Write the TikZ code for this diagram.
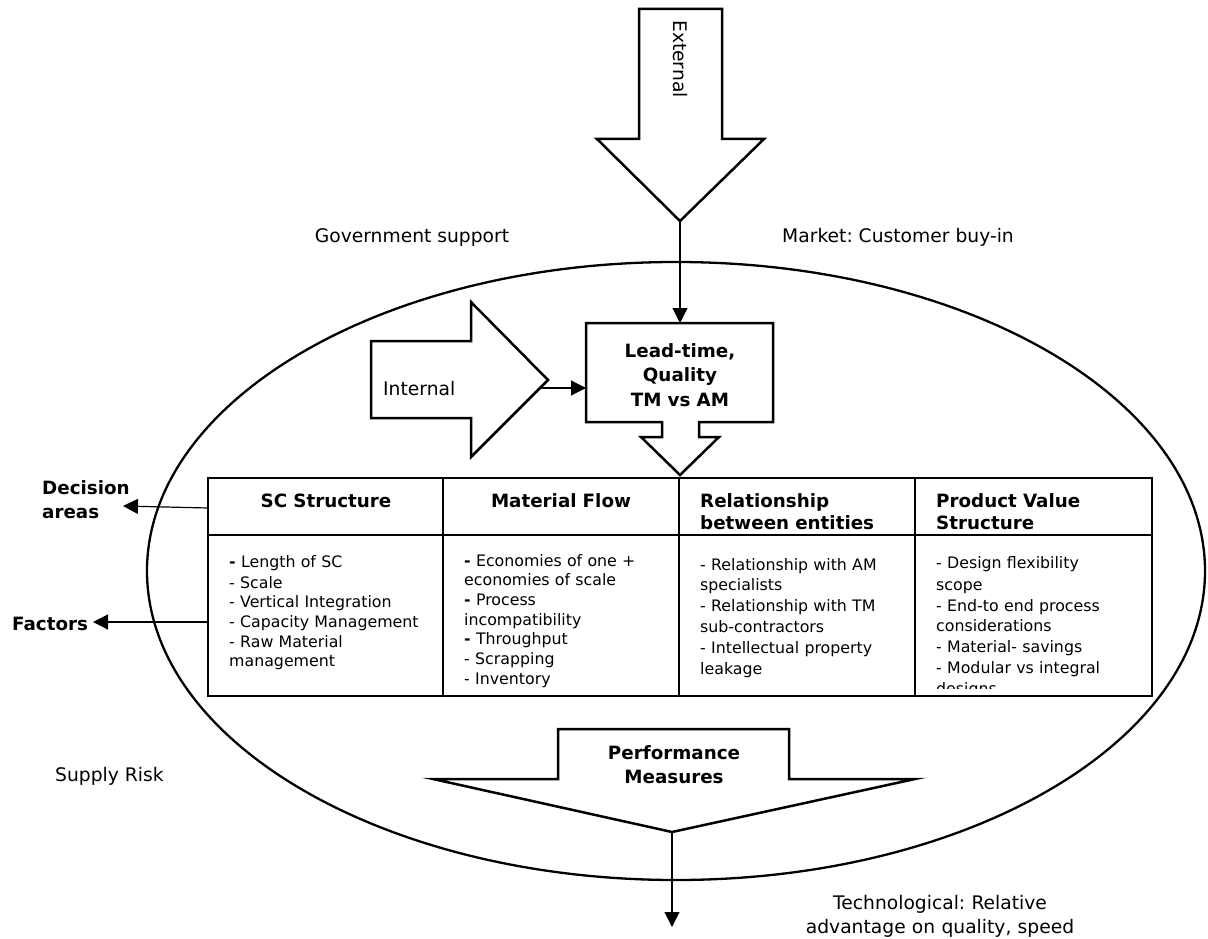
\documentclass[tikz,border=0pt]{standalone}
\usepackage{fontspec}
\setmainfont{DejaVu Sans}
\frenchspacing
\usetikzlibrary{arrows.meta}
\begin{document}
\begin{tikzpicture}[x=1pt,y=-1pt,
  plain/.style={font=\fontsize{18.7}{24}\selectfont, inner sep=0pt},
  boldtxt/.style={font=\bfseries\fontsize{18.3}{24.5}\selectfont, inner sep=0pt, align=center, text width=200pt},
  hdr/.style={font=\bfseries\fontsize{18.3}{22}\selectfont, inner sep=0pt, align=left, text width=210pt, anchor=base west},
  cell/.style={font=\fontsize{15.8}{19.7}\selectfont, inner sep=0pt, text width=210pt, align=left, anchor=base west},
  widecell/.style={cell, font=\fontsize{15.8}{20.8}\selectfont},
  fatarrow/.style={draw, line width=2.5pt, fill=white, line join=miter},
  conn/.style={line width=1.2pt, -{Triangle[length=15pt,width=15pt]}},
  grid/.style={line width=1.3pt},
]
\useasboundingbox (0,0) rectangle (1208,939);

% surrounding oval
\draw[line width=2.3pt] (676,571) ellipse [x radius=529, y radius=309];

% external block arrow
\draw[fatarrow] (639,9) -- (722,9) -- (722,139) -- (764,139) -- (680,221)
  -- (597,139) -- (639,139) -- cycle;
\node[plain, rotate=-90] (ext) at (680,59) {External};
\coordinate (exttip) at (680,221);

% internal block arrow
\draw[fatarrow] (371,341) -- (471,341) -- (471,302) -- (548,380) -- (471,457)
  -- (471,418) -- (371,418) -- cycle;
\node[plain, anchor=base west] (int) at (383,395) {Internal};
\coordinate (inttip) at (540,388);

% lead-time box with its downward pointer
\draw[fatarrow] (586,323) -- (773,323) -- (773,422) -- (699,422) -- (699,437)
  -- (719,437) -- (680,475) -- (641,437) -- (662,437) -- (662,422)
  -- (586,422) -- cycle;
\node[boldtxt, anchor=base] (lead) at (680,357) {Lead-time,\\Quality\\TM vs AM};
\coordinate (leadN) at (680,323);
\coordinate (leadW) at (586,388);

\draw[conn] (exttip) -- (leadN);
\draw[conn] (inttip) -- (leadW);

% outside labels
\node[plain, anchor=base] (gov) at (412,242) {Government support};
\node[plain, anchor=base] (mkt) at (898,242) {Market: Customer buy-in};
\node[plain, anchor=base west] (risk) at (55,781) {Supply Risk};
\node[plain, anchor=base, align=center, text width=300pt] (tech) at (940,909)
  {Technological: Relative\\advantage on quality, speed};

% decision table
\draw[grid] (208,478) rectangle (1152,696);
\draw[grid] (208,535) -- (1152,535);
\foreach \cx in {443,679,915} \draw[grid] (\cx,478) -- (\cx,696);

\node[hdr, anchor=base, align=center, text width=230pt] (h1) at (326,507) {SC Structure};
\node[hdr, anchor=base, align=center, text width=230pt] (h2) at (561,507) {Material Flow};
\node[hdr] (h3) at (700,507) {Relationship\\between entities};
\node[hdr] (h4) at (936,507) {Product Value\\Structure};

\node[cell] (c1) at (229,567) {\textbf{-} Length of SC\\[1.3pt]- Scale\\- Vertical Integration\\- Capacity Management\\- Raw Material\\management};
\node[cell] (c2) at (464,566) {\textbf{-} Economies of one +\\economies of scale\\\textbf{-} Process\\incompatibility\\\textbf{-} Throughput\\- Scrapping\\- Inventory};
\node[widecell] (c3) at (700,570) {- Relationship with AM\\specialists\\- Relationship with TM\\sub-contractors\\- Intellectual property\\leakage};
\begin{scope}
  \clip (916,540) rectangle (1151,688);
  \node[widecell] (c4) at (936,568) {- Design flexibility\\[1.5pt]scope\\- End-to end process\\considerations\\- Material- savings\\- Modular vs integral\\designs};
\end{scope}

% side labels
\node[hdr, text width=120pt, font=\bfseries\fontsize{18.3}{24}\selectfont] (dec) at (42,494) {Decision\\areas};
\node[hdr, text width=100pt] (fac) at (12,630) {Factors};
\coordinate (tabD) at (208,508);
\coordinate (decend) at (123,506);
\coordinate (tabF) at (208,622);
\coordinate (facend) at (93,622);
\draw[conn] (tabD) -- (decend);
\draw[conn] (tabF) -- (facend);

% performance block arrow
\draw[fatarrow] (558,729) -- (789,729) -- (789,779) -- (915,779) -- (672,832)
  -- (433,779) -- (558,779) -- cycle;
\node[boldtxt, anchor=base] (perf) at (674,759) {Performance\\Measures};
\coordinate (perftip) at (672,832);
\coordinate (outend) at (672,927);
\draw[conn] (perftip) -- (outend);
\end{tikzpicture}
\end{document}
